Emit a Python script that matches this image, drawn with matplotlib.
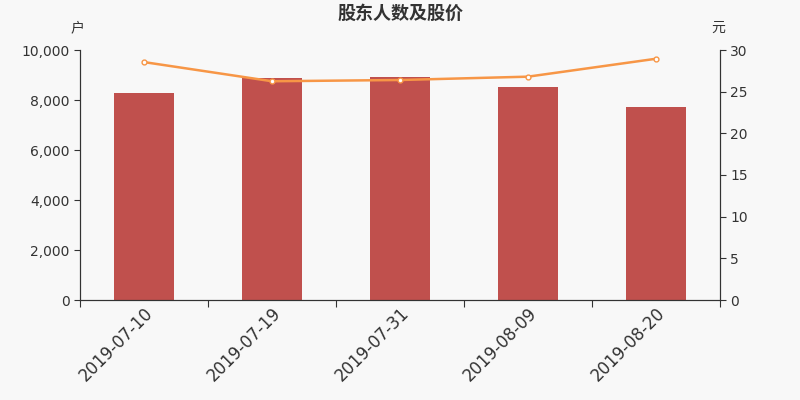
import matplotlib.pyplot as plt

plt.rcParams['font.family'] = ['DejaVu Sans', 'Noto Sans CJK SC']

dates = ['2019-07-10', '2019-07-19', '2019-07-31', '2019-08-09', '2019-08-20']
holders = [8280, 8880, 8920, 8520, 7720]   # 股东户数
price = [28.55, 26.25, 26.4, 26.8, 28.95]  # 股价 (元)

bg = '#f8f8f8'
fig = plt.figure(figsize=(8, 4), dpi=100, facecolor=bg)
ax = fig.add_axes([0.1, 0.25, 0.8, 0.625], facecolor=bg)
ax2 = ax.twinx()

x = list(range(len(dates)))
ax.bar(x, holders, width=0.47, color='#c0504d', zorder=2)
ax2.plot(x, price, color='#f79646', lw=1.8, marker='o', ms=3.5,
         mfc='white', mec='#f79646', mew=1, zorder=3)

ax.set_xlim(-0.5, len(dates) - 0.5)
ax.set_ylim(0, 10000)
ax2.set_ylim(0, 30)
ax.set_yticks(range(0, 10001, 2000))
ax.set_yticklabels([f'{v:,}' for v in range(0, 10001, 2000)])
ax2.set_yticks(range(0, 31, 5))

ax.set_xticks([i - 0.5 for i in range(len(dates) + 1)])
ax.set_xticklabels([])
ax.set_xticks(x, minor=True)
ax.set_xticklabels(dates, minor=True, rotation=45, ha='right',
                   rotation_mode='anchor', fontsize=12, color='#333333')
ax.tick_params(axis='x', which='minor', length=0, pad=3)
ax.tick_params(axis='x', which='major', length=5, color='#333333')

for a in (ax, ax2):
    a.spines['top'].set_visible(False)
    for s in ('left', 'right', 'bottom'):
        a.spines[s].set_color('#333333')
    a.tick_params(axis='y', labelsize=10, colors='#333333', length=4)

ax.text(-0.004, 1.088, '户', transform=ax.transAxes, ha='center', va='center',
        fontsize=10, color='#333333')
ax2.text(0.997, 1.088, '元', transform=ax2.transAxes, ha='center', va='center',
         fontsize=10, color='#333333')
fig.text(0.5, 0.965, '股东人数及股价', ha='center', va='center',
         fontsize=13, fontweight='bold', color='#333333')

fig.savefig('out.png', dpi=100, facecolor=bg)
